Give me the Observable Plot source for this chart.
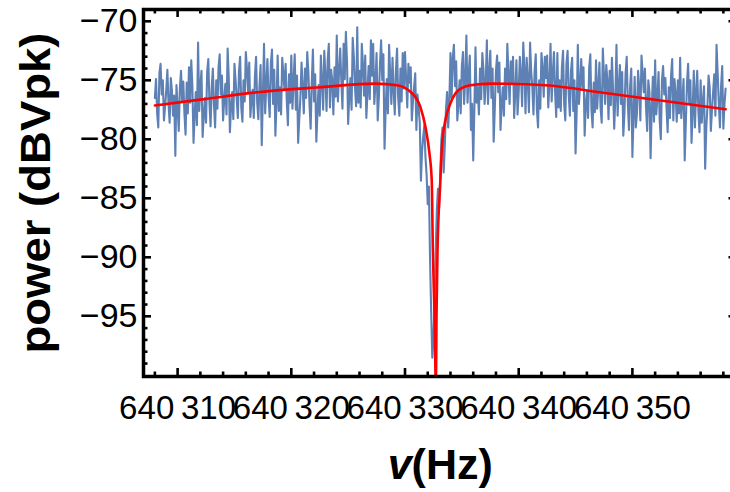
<!DOCTYPE html>
<html><head><meta charset="utf-8">
<script src="https://cdn.jsdelivr.net/npm/d3@7"></script>
<script src="https://cdn.jsdelivr.net/npm/@observablehq/plot@0.6"></script>
<style>
html,body{margin:0;padding:0;background:#fff;overflow:hidden;width:730px;height:492px}
#chart{width:742px;height:492px;overflow:hidden}
#chart svg{display:block;max-width:none !important;width:742px !important;height:492px !important}
</style></head><body><div id="chart"></div>
<script>
// measured spectrum: frequency grid start/step (Hz) and power (dBVpk)
const freqStart = 640308.0;
const freqStep = 0.1;
const powerDb = [
-76.5,-74.9,-77.8,-79.0,-74.4,-73.6,-76.2,-75.0,-78.4,-77.2,-75.9,-74.1,-77.0,-78.6,-74.8,-75.9,-78.0,-76.3,-81.4,-75.4,
-77.2,-79.3,-75.7,-74.2,-76.8,-75.1,-77.8,-79.6,-75.2,-77.8,-73.9,-76.9,-73.3,-75.5,-80.3,-77.9,-76.0,-78.8,-71.8,-77.6,
-75.5,-74.2,-79.8,-78.0,-76.5,-78.6,-74.3,-73.2,-76.9,-78.9,-75.6,-74.0,-77.1,-79.0,-75.0,-77.4,-73.9,-72.8,-76.2,-74.6,
-78.4,-76.6,-75.3,-77.9,-72.3,-74.8,-79.4,-77.2,-76.0,-78.3,-73.6,-75.0,-76.6,-78.2,-74.2,-73.0,-77.3,-78.5,-75.0,-76.8,
-72.6,-74.0,-76.0,-73.5,-78.1,-76.6,-75.8,-78.2,-74.7,-73.0,-76.9,-78.3,-75.5,-73.7,-80.5,-76.2,-71.9,-77.8,-75.3,-73.2,
-76.4,-78.1,-73.6,-72.4,-77.0,-74.1,-79.7,-76.9,-72.9,-77.6,-75.6,-77.9,-73.1,-74.4,-75.8,-73.6,-76.7,-78.8,-74.5,-76.9,
-72.9,-77.4,-75.0,-72.8,-77.5,-74.6,-80.3,-78.3,-76.4,-73.5,-75.6,-77.8,-74.0,-76.5,-72.6,-74.3,-77.0,-79.1,-75.2,-72.4,
-76.8,-74.5,-80.2,-77.7,-75.4,-78.0,-72.9,-75.1,-77.5,-72.5,-74.6,-77.6,-73.3,-71.9,-77.3,-74.1,-75.0,-77.9,-73.9,-76.4,
-71.2,-76.8,-74.3,-72.3,-75.0,-77.4,-71.9,-74.9,-70.9,-73.4,-78.7,-76.3,-74.8,-77.5,-71.4,-73.0,-75.6,-77.2,-70.5,-76.9,
-74.2,-77.3,-71.9,-73.7,-76.3,-72.9,-78.2,-76.0,-73.8,-76.6,-71.6,-74.6,-71.9,-77.0,-75.3,-72.7,-78.4,-76.4,-73.6,-71.6,
-75.0,-72.8,-80.8,-77.4,-74.9,-77.8,-72.0,-74.5,-77.0,-73.1,-75.8,-77.9,-74.2,-72.3,-76.4,-78.0,-74.0,-76.8,-72.7,-75.7,
-72.6,-74.9,-77.3,-73.6,-75.2,-73.9,-78.4,-76.8,-75.6,-74.4,-79.2,-76.2,-77.4,-78.6,-83.5,-81.0,-79.8,-78.8,-81.5,-83.0,
-85.5,-84.0,-90.0,-94.5,-98.5,-97.0,-94.0,-89.5,-86.0,-84.2,-85.8,-83.0,-80.0,-79.0,-82.8,-80.5,-77.5,-76.0,-79.0,-76.8,
-72.7,-76.5,-73.1,-72.0,-75.5,-73.4,-78.4,-77.0,-75.0,-77.8,-73.8,-72.6,-77.0,-74.8,-71.2,-76.9,-74.5,-72.9,-79.2,-77.0,
-81.8,-77.4,-72.2,-76.9,-75.6,-77.9,-74.0,-76.6,-72.7,-74.1,-77.0,-75.2,-71.6,-77.0,-74.4,-72.5,-76.5,-74.0,-80.2,-77.3,
-74.2,-72.9,-76.0,-73.5,-79.2,-77.1,-75.6,-78.0,-74.0,-76.6,-71.9,-74.5,-77.0,-73.4,-75.2,-73.0,-78.2,-76.0,-73.3,-77.9,
-76.0,-73.0,-74.5,-77.2,-71.8,-74.0,-77.8,-73.1,-75.0,-77.7,-71.8,-74.3,-75.6,-77.9,-74.2,-72.8,-77.5,-79.0,-75.0,-77.4,
-72.7,-74.0,-76.4,-73.0,-74.8,-72.9,-77.3,-75.3,-71.9,-76.8,-74.4,-72.6,-76.0,-78.1,-72.7,-77.3,-75.0,-77.6,-73.9,-72.5,
-77.0,-78.4,-73.6,-72.5,-76.2,-78.0,-74.2,-73.1,-77.6,-75.0,-81.2,-77.6,-72.0,-77.0,-75.4,-73.2,-75.6,-73.9,-79.7,-77.0,
-76.0,-78.2,-73.9,-72.8,-77.5,-79.0,-75.2,-77.7,-73.3,-77.4,-75.6,-73.5,-77.3,-78.6,-72.3,-74.6,-77.0,-73.7,-75.0,-78.3,
-74.2,-77.1,-73.1,-75.8,-79.1,-76.5,-72.0,-78.0,-75.6,-73.7,-77.0,-74.3,-79.7,-77.8,-74.4,-73.0,-77.0,-79.2,-75.5,-74.0,
-81.5,-78.0,-74.7,-79.0,-77.8,-74.2,-75.6,-78.4,-72.9,-74.4,-76.0,-74.0,-77.3,-79.3,-75.0,-76.0,-81.6,-77.5,-74.7,-78.5,
-73.3,-77.9,-76.5,-74.3,-78.4,-80.0,-75.0,-73.8,-76.2,-74.8,-77.3,-79.4,-75.6,-78.2,-74.6,-73.2,-78.4,-74.9,-76.1,-78.5,
-75.0,-77.8,-73.1,-78.2,-76.6,-74.9,-81.8,-78.6,-75.3,-73.6,-77.0,-75.0,-80.3,-77.6,-74.2,-79.0,-76.0,-74.2,-77.5,-79.4,
-75.0,-78.6,-76.8,-75.5,-82.5,-79.0,-77.2,-74.6,-75.6,-79.3,-77.5,-76.0,-74.5,-78.0,-72.0,-74.4,-77.0,-79.0,-75.5,-73.8,
-79.1,-77.0,-75.7
];
// fitted curve
const fitFreq = [640308.0,640312.0,640317.25,640322.5,640327.4,640329.3,640330.5,640331.35,640331.8,640332.15,640332.35,640332.45,640332.6,640332.72,640332.77,640332.86,640333.1,640333.25,640333.55,640334.0,640334.7,640335.75,640337.5,640342.35,640347.6,640358.2];
const fitPower = [-77.13,-76.64,-75.99,-75.59,-75.28,-75.42,-75.99,-77.26,-78.96,-81.19,-83.47,-89.41,-95.06,-101.0,-95.06,-89.41,-83.75,-80.65,-78.39,-76.95,-75.85,-75.42,-75.28,-75.42,-76.08,-77.45];
// ticks
const xMajorTicks = [640310,640320,640330,640340,640350];
const xMinorTicks = [640308,640312,640314,640316,640318,640322,640324,640326,640328,640332,640334,640336,640338,640342,640344,640346,640348,640352,640354,640356,640358];
const yMajorTicks = [-95,-90,-85,-80,-75,-70];
const yMinorTicks = [-99,-98,-97,-96,-94,-93,-92,-91,-89,-88,-87,-86,-84,-83,-82,-81,-79,-78,-77,-76,-74,-73,-72,-71];
const xTitle = ["v", "(Hz)"];
const yTitle = "power (dBVpk)";

const spectrum = powerDb.map((p, i) => ({freq: freqStart + i * freqStep, power: p}));
const fit = fitFreq.map((f, i) => ({freq: f, power: fitPower[i]}));

const W = 742, H = 492, mL = 143, mR = 5.5, mT = 9, mB = 116;
const innerW = W - mL - mR, innerH = H - mT - mB;
const font = "Liberation Sans, Arial, Helvetica, sans-serif";
const fmtX = d => { const s = String(d); return s.slice(0, 3) + "\u2009" + s.slice(3); };

const chart = Plot.plot({
  width: W, height: H,
  marginLeft: mL, marginRight: mR, marginTop: mT, marginBottom: mB,
  style: {fontFamily: font, color: "black", background: "white", overflow: "visible"},
  x: {domain: [640307.0, 640359.2]},
  y: {domain: [-100.1, -69.0]},
  marks: [
    Plot.line(spectrum, {x: "freq", y: "power", stroke: "#5E81B5", strokeWidth: 2.1, clip: true}),
    Plot.line(fit, {x: "freq", y: "power", stroke: "#FF0000", strokeWidth: 2.6, curve: "monotone-x", clip: true}),
    Plot.tickX(xMajorTicks, {x: d => d, insetTop: innerH - 8, stroke: "black", strokeWidth: 2.6}),
    Plot.tickX(xMinorTicks, {x: d => d, insetTop: innerH - 4.5, stroke: "black", strokeWidth: 2.6}),
    Plot.tickX(xMajorTicks, {x: d => d, insetBottom: innerH - 8, stroke: "black", strokeWidth: 2.6}),
    Plot.tickX(xMinorTicks, {x: d => d, insetBottom: innerH - 4.5, stroke: "black", strokeWidth: 2.6}),
    Plot.tickY(yMajorTicks, {y: d => d, insetRight: innerW - 8, stroke: "black", strokeWidth: 2.6}),
    Plot.tickY(yMinorTicks, {y: d => d, insetRight: innerW - 4.5, stroke: "black", strokeWidth: 2.6}),
    Plot.tickY(yMajorTicks, {y: d => d, insetLeft: innerW - 8, stroke: "black", strokeWidth: 2.6}),
    Plot.tickY(yMinorTicks, {y: d => d, insetLeft: innerW - 4.5, stroke: "black", strokeWidth: 2.6}),
    Plot.frame({stroke: "black", strokeWidth: 3.5}),
    Plot.axisX({ticks: xMajorTicks, tickSize: 0, tickPadding: 18, tickFormat: fmtX, fontSize: 34, label: null}),
    Plot.axisY({ticks: yMajorTicks, tickSize: 0, tickPadding: 6, fontSize: 34, label: null}),
    Plot.text([yTitle], {text: d => d, frameAnchor: "left", lineAnchor: "middle", dx: -107, dy: 160.5, rotate: -90, textAnchor: "start", fontSize: 43, fontWeight: "bold"}),
    Plot.text([xTitle.join("")], {text: d => d, frameAnchor: "bottom", lineAnchor: "middle", dy: 88.7, fontSize: 43, fontWeight: "bold"})
  ]
});
document.getElementById("chart").appendChild(chart);

const svg = d3.select(chart);
svg.selectAll('[aria-label="x-axis tick label"] text').attr("textLength", 117).attr("lengthAdjust", "spacingAndGlyphs");
svg.selectAll("text").each(function() {
  const t = d3.select(this);
  const s = t.text();
  if (s === yTitle) {
    t.attr("textLength", 321).attr("lengthAdjust", "spacingAndGlyphs");
  } else if (s === xTitle.join("")) {
    t.text("");
    t.append("tspan").attr("font-style", "italic").text(xTitle[0]);
    t.append("tspan").text(xTitle[1]);
  }
});
</script></body></html>
